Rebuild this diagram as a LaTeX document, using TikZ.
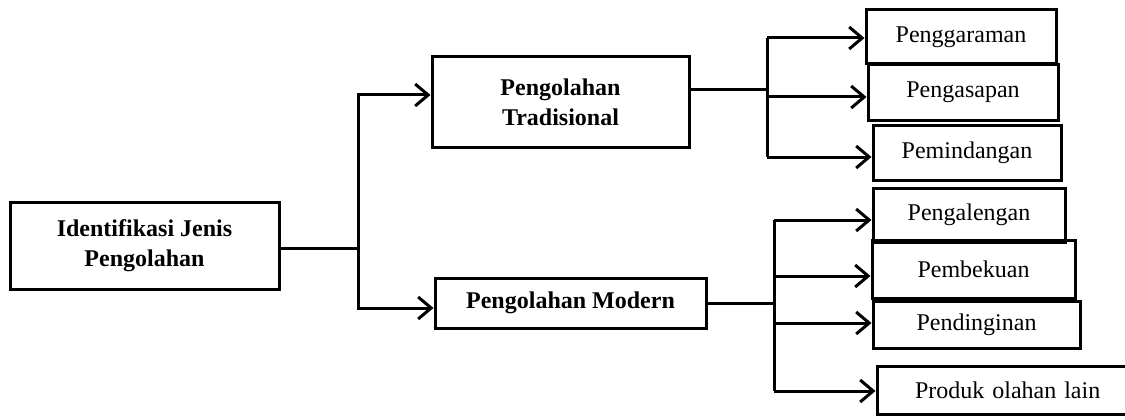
\documentclass[tikz,border=0pt]{standalone}
\usepackage{fontspec}
\setmainfont{Liberation Serif}
\usetikzlibrary{arrows.meta}
\begin{document}
\begin{tikzpicture}[x=1pt,y=-1pt,
  box/.style={draw, line width=3pt, inner sep=0pt, align=center,
    font=\fontsize{24}{30}\selectfont},
  bbox/.style={box, font=\fontsize{24}{30}\selectfont\bfseries},
  conn/.style={line width=3pt},
  arr/.style={conn, -{Straight Barb[length=13pt,width=22pt,line width=3pt]}}]
\useasboundingbox (0,0) rectangle (1125,420);
% main nodes
\node[bbox, minimum width=269pt, minimum height=87pt] (ident) at (144.5,245.5) {Identifikasi Jenis\\Pengolahan};
\node[bbox, minimum width=257pt, minimum height=90pt] (trad) at (560.5,102) {Pengolahan\\Tradisional};
\node[bbox, minimum width=271pt, minimum height=50pt] (mod) at (570.5,303) {Pengolahan Modern};
% traditional children
\node[box, minimum width=190pt, minimum height=54pt] (p1) at (961,37) {Penggaraman};
\node[box, minimum width=190pt, minimum height=55pt] (p2) at (963,92.5) {Pengasapan};
\node[box, minimum width=188pt, minimum height=55pt] (p3) at (967,152.5) {Pemindangan};
% modern children
\node[box, minimum width=192pt, minimum height=54pt] (m1) at (969,215) {Pengalengan};
\node[box, minimum width=203pt, minimum height=58pt] (m2) at (973.5,269) {Pembekuan};
\node[box, minimum width=207pt, minimum height=47pt] (m3) at (976.5,324.5) {Pendinginan};
\node[box, minimum width=270pt, minimum height=48pt, text width=250pt, align=left] (m4) at (1012,390) {\hspace*{28pt}Produk olahan lain};
% junctions
\coordinate (j0) at (358,248);
\coordinate (jt) at (767,90);
\coordinate (jm) at (774,303);
% connectors left
\draw[conn] (ident.east |- j0) -- (j0);
\draw[arr] (j0) -- (j0 |- 0,95) -- (trad.west |- 0,95);
\draw[arr] (j0) -- (j0 |- 0,308) -- (mod.west |- 0,308);
% connectors traditional
\draw[conn] (trad.east |- jt) -- (jt);
\draw[conn] (jt |- 0,38) -- (jt |- 0,157);
\draw[arr] (jt |- 0,38) -- (p1.west |- 0,38);
\draw[arr] (jt |- 0,97) -- (p2.west |- 0,97);
\draw[arr] (jt |- 0,157) -- (p3.west |- 0,157);
% connectors modern
\draw[conn] (mod.east |- jm) -- (jm);
\draw[conn] (jm |- 0,220) -- (jm |- 0,391);
\draw[arr] (jm |- 0,220) -- (m1.west |- 0,220);
\draw[arr] (jm |- 0,276) -- (m2.west |- 0,276);
\draw[arr] (jm |- 0,323) -- (m3.west |- 0,323);
\draw[arr] (jm |- 0,391) -- (m4.west |- 0,391);
\end{tikzpicture}
\end{document}
